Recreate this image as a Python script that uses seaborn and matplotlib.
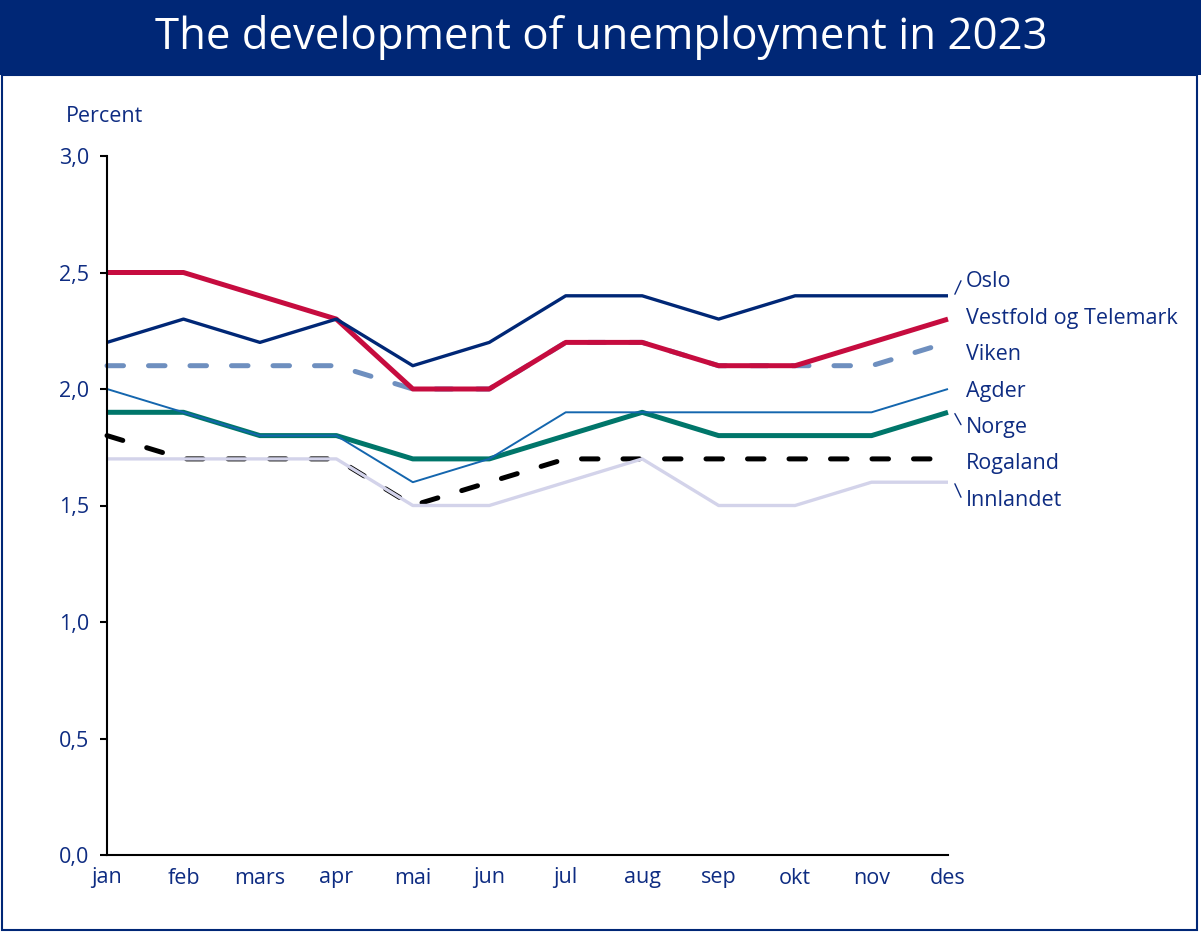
import matplotlib
matplotlib.use("Agg")
import matplotlib.pyplot as plt
from matplotlib.patches import Rectangle
from matplotlib.ticker import FuncFormatter
from matplotlib.transforms import offset_copy
import seaborn as sns
import pandas as pd

months = ["jan", "feb", "mars", "apr", "mai", "jun", "jul", "aug", "sep", "okt", "nov", "des"]

oslo = [2.2, 2.3, 2.2, 2.3, 2.1, 2.2, 2.4, 2.4, 2.3, 2.4, 2.4, 2.4]
vestfold_telemark = [2.5, 2.5, 2.4, 2.3, 2.0, 2.0, 2.2, 2.2, 2.1, 2.1, 2.2, 2.3]
viken = [2.1, 2.1, 2.1, 2.1, 2.0, 2.0, 2.2, 2.2, 2.1, 2.1, 2.1, 2.2]
agder = [2.0, 1.9, 1.8, 1.8, 1.6, 1.7, 1.9, 1.9, 1.9, 1.9, 1.9, 2.0]
norge = [1.9, 1.9, 1.8, 1.8, 1.7, 1.7, 1.8, 1.9, 1.8, 1.8, 1.8, 1.9]
rogaland = [1.8, 1.7, 1.7, 1.7, 1.5, 1.6, 1.7, 1.7, 1.7, 1.7, 1.7, 1.7]
innlandet = [1.7, 1.7, 1.7, 1.7, 1.5, 1.5, 1.6, 1.7, 1.5, 1.5, 1.6, 1.6]

title = "The development of unemployment in 2023"
y_title = "Percent"
y_ticks = [0.0, 0.5, 1.0, 1.5, 2.0, 2.5, 3.0]

NAVY = "#002776"
TEXT = "#0E2C82"
FS = 15.5

# name, values, colour, linewidth, dashed
series = [
    ("Oslo", oslo, "#002776", 2.4, False),
    ("Vestfold og Telemark", vestfold_telemark, "#C60C3F", 3.6, False),
    ("Viken", viken, "#6E8FBF", 3.6, True),
    ("Agder", agder, "#1466AE", 1.4, False),
    ("Norge", norge, "#00766A", 3.6, False),
    ("Rogaland", rogaland, "#000000", 3.6, True),
    ("Innlandet", innlandet, "#D3D3EA", 2.4, False),
]
draw_order = ["Viken", "Rogaland", "Innlandet", "Norge", "Agder", "Vestfold og Telemark", "Oslo"]

sns.set_theme(style="white")
plt.rcParams["font.family"] = ["Open Sans", "DejaVu Sans"]

W, H = 1201, 934
fig = plt.figure(figsize=(W / 100, H / 100), dpi=100)
fig.patch.set_facecolor("white")

# Title banner and frame
fig.patches.append(Rectangle((0, 1 - 75 / H), 1, 75 / H, transform=fig.transFigure,
                             facecolor=NAVY, edgecolor="none", zorder=0))
fig.patches.append(Rectangle((2 / W, 4 / H), (1195 / W), (1 - 75 / H) - 4 / H,
                             transform=fig.transFigure, facecolor="none",
                             edgecolor=NAVY, linewidth=1.5, zorder=0))
fig.text(601 / W, 1 - 37 / H, title, color="white", fontsize=31.5,
         ha="center", va="center")
fig.text(66 / W, 1 - 116 / H, y_title, color=TEXT, fontsize=FS, ha="left", va="center")

ax = fig.add_axes([107 / W, 1 - 855 / H, (948 - 107) / W, (855 - 156) / H])
ax.set_facecolor("none")

x = list(range(len(months)))
lookup = {s[0]: s for s in series}
for name in draw_order:
    _, vals, color, lw, dashed = lookup[name]
    df = pd.DataFrame({"month": x, "value": vals})
    sns.lineplot(data=df, x="month", y="value", ax=ax, color=color, linewidth=lw,
                 legend=False, clip_on=False, solid_capstyle="butt")
    line = ax.lines[-1]
    if dashed:
        line.set_dashes((3.3, 5.0))
        line.set_dash_capstyle("round")

ax.set_xlim(0, len(months) - 1)
ax.set_ylim(0, 3.0)
ax.set_yticks(y_ticks)
ax.yaxis.set_major_formatter(FuncFormatter(lambda v, p: f"{v:.1f}".replace(".", ",")))
ax.set_xticks(x)
ax.set_xticklabels(months)
ax.set_xlabel("")
ax.set_ylabel("")
for side in ["top", "right"]:
    ax.spines[side].set_visible(False)
for side in ["left", "bottom"]:
    ax.spines[side].set_color("black")
    ax.spines[side].set_linewidth(1.5)
ax.tick_params(axis="y", left=True, length=5, width=1.5, color="black", pad=8,
               labelsize=FS, labelcolor=TEXT)
ax.tick_params(axis="x", bottom=False, length=0, pad=9, labelsize=FS, labelcolor=TEXT)
ax.grid(False)

# End labels spread evenly around the middle series, with short leaders
step = 0.156
x_end = len(months) - 1
label_tr = offset_copy(ax.transData, fig=fig, x=0, y=-2, units="dots")
for i, (name, vals, color, lw, dashed) in enumerate(series):
    label_y = agder[-1] + (3 - i) * step
    ax.text(x_end + 0.235, label_y, name, color=TEXT, fontsize=FS,
            ha="left", va="center", clip_on=False, transform=label_tr)
    if abs(label_y - vals[-1]) > 0.05:
        ax.plot([x_end + 0.09, x_end + 0.17],
                [vals[-1] + (label_y - vals[-1]) * 0.1, label_y - (label_y - vals[-1]) * 0.05],
                color=TEXT, linewidth=1.0, clip_on=False)

fig.savefig("out.png", dpi=100, facecolor="white")
